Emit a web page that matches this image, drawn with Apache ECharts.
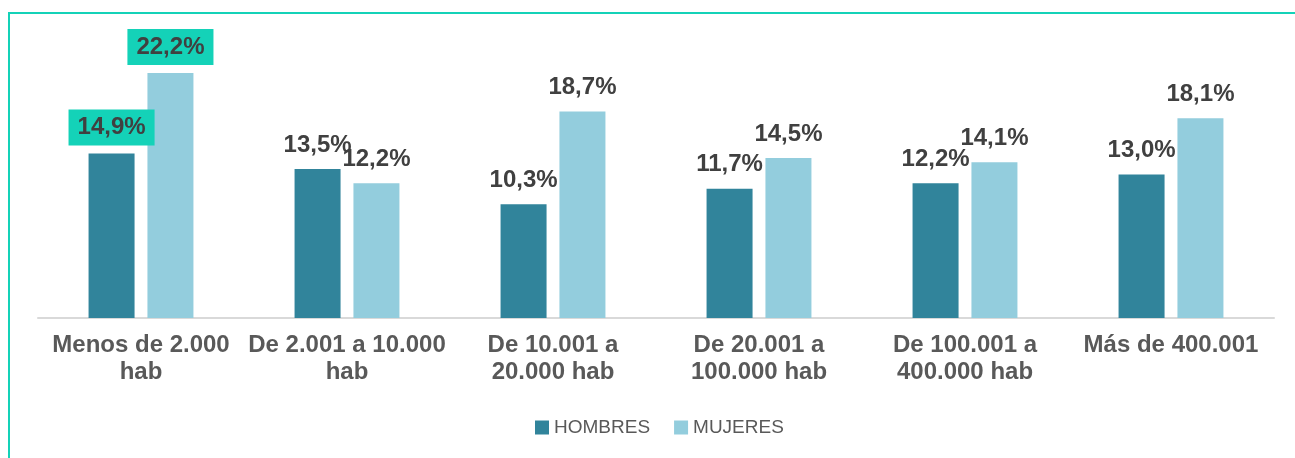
<!DOCTYPE html>
<html>
<head>
<meta charset="utf-8">
<script src="https://cdn.jsdelivr.net/npm/echarts@6/dist/echarts.min.js"></script>
<style>
  html, body { margin: 0; padding: 0; background: #fff; }
  #chart { width: 1295px; height: 458px; }
</style>
</head>
<body>
<div id="chart"></div>
<script>
// data
var categories = ['Menos de 2.000\nhab', 'De 2.001 a 10.000\nhab', 'De 10.001 a\n20.000 hab',
                  'De 20.001 a\n100.000 hab', 'De 100.001 a\n400.000 hab', 'Más de 400.001'];
var hombres = [14.9, 13.5, 10.3, 11.7, 12.2, 13.0];
var mujeres = [22.2, 12.2, 18.7, 14.5, 14.1, 18.1];
var seriesNames = ['HOMBRES', 'MUJERES'];
var highlighted = [0];   // categories whose labels sit in a box

var chart = echarts.init(document.getElementById('chart'));

var labelFont = "'Liberation Sans Narrow', 'Liberation Sans', Arial, sans-serif";

function fmt(v) {
    return v.toFixed(1).replace('.', ',') + '%';
}

function buildData(values) {
    return values.map(function (v, i) {
        if (highlighted.indexOf(i) >= 0) {
            return {
                value: v,
                label: {
                    backgroundColor: '#14D2B8',
                    padding: [6, 9],
                    distance: 8
                }
            };
        }
        return v;
    });
}

function makeSeries(name, values, color) {
    return {
        name: name,
        type: 'bar',
        barWidth: 46,
        barGap: '28%',
        itemStyle: { color: color },
        label: {
            show: true,
            position: 'top',
            distance: 12,
            fontFamily: labelFont,
            fontWeight: 'bold',
            fontSize: 24,
            lineHeight: 24,
            color: '#404040',
            formatter: function (p) { return fmt(p.value); }
        },
        data: buildData(values)
    };
}

option = {
    animation: false,
    textStyle: { fontFamily: "'Liberation Sans', Arial, sans-serif" },
    graphic: [
        {
            type: 'rect',
            shape: { x: 9, y: 13, width: 1300, height: 460 },
            style: { fill: 'none', stroke: '#14D2B8', lineWidth: 2 },
            silent: true
        }
    ],
    legend: {
        data: seriesNames,
        left: 530,
        top: 413,
        itemWidth: 14,
        itemHeight: 14,
        itemGap: 24,
        icon: 'rect',
        textStyle: { fontSize: 19, color: '#595959', fontFamily: "'Liberation Sans', Arial, sans-serif" }
    },
    grid: { left: 38, right: 21, top: 42, bottom: 140 },
    xAxis: {
        type: 'category',
        data: categories,
        axisTick: { show: false },
        axisLine: { lineStyle: { color: '#D9D9D9', width: 2 } },
        axisLabel: {
            interval: 0,
            margin: 14,
            fontSize: 24,
            lineHeight: 27,
            fontWeight: 'bold',
            color: '#595959'
        }
    },
    yAxis: {
        type: 'value',
        min: 0,
        max: 25,
        show: false,
        splitLine: { show: false }
    },
    series: [
        makeSeries(seriesNames[0], hombres, '#31849B'),
        makeSeries(seriesNames[1], mujeres, '#93CDDD')
    ]
};

chart.setOption(option);
</script>
</body>
</html>
